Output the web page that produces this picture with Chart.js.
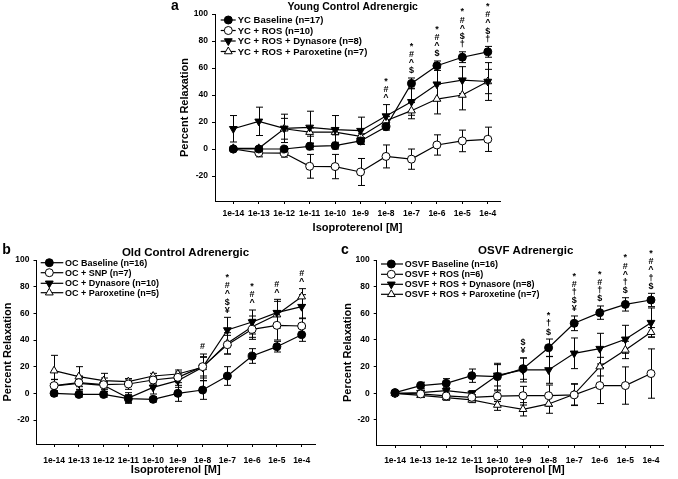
<!DOCTYPE html>
<html>
<head>
<meta charset="utf-8">
<script src="https://cdn.jsdelivr.net/npm/chart.js@4.4.1/dist/chart.umd.min.js"></script>
<style>
  body { margin: 0; background: #fff; }
  #wrap { position: relative; width: 678px; height: 479px; }
  canvas { position: absolute; }
</style>
</head>
<body>
<div id="wrap">
  <canvas id="chartA" width="350" height="240" style="left:160px;top:0px"></canvas>
  <canvas id="chartB" width="340" height="239" style="left:0px;top:240px"></canvas>
  <canvas id="chartC" width="340" height="239" style="left:338px;top:240px"></canvas>
</div>
<script>
// x categories (isoproterenol concentration) and y tick labels
const conc = ["1e-14", "1e-13", "1e-12", "1e-11", "1e-10", "1e-9", "1e-8", "1e-7", "1e-6", "1e-5", "1e-4"];
const yTicks = [-20, 0, 20, 40, 60, 80, 100];

/********* PANEL A: young control *********/
const ycBase = [0, 0, 0, 2, 2.5, 6, 16.5, 48.6, 61.7, 68, 72];
const ycBaseErr = [1.5, 1.5, 1.5, 2.5, 2.5, 2.5, 2.5, 4, 3.5, 4, 4];
const ycRos = [0, -2.8, -3, -12.8, -13, -17, -5.5, -7.5, 3, 6, 7.2];
const ycRosErr = [1, 3, 3, 8.8, 9, 10, 8.5, 7.5, 7.5, 8, 9];
const ycDyn = [15, 20.5, 15.3, 16, 14.3, 13.6, 24.4, 35, 48, 51, 50];
const ycDynErr = [9.8, 10.5, 10.5, 12, 10.5, 10, 8.5, 10, 12, 10, 14];
const ycPar = [0.5, 0.5, 15, 12.5, 12.5, 9.3, 21, 28.4, 37, 40, 50];
const ycParErr = [1, 1.5, 7.7, 3, 2, 2, 3, 6, 11, 11, 9];
const sigA = ["", "", "", "", "", "", "*#^", "*#^$", "*#^$", "*#^$\u2020", "*#^$\u2020"];
const namesA = ["YC Baseline (n=17)", "YC + ROS (n=10)", "YC + ROS + Dynasore (n=8)", "YC + ROS + Paroxetine (n=7)"];

/********* PANEL B: old control *********/
const ocBase = [0, -0.8, -0.8, -4, -4.5, 0, 2.5, 13, 28, 35, 44];
const ocBaseErr = [2, 2, 2, 3, 2, 6, 7, 7, 5.5, 4, 5];
const ocSnp = [5.8, 8, 6.5, 7, 10, 12, 20, 36.5, 48, 51, 50.5];
const ocSnpErr = [4.5, 5, 5, 4, 3, 4, 7, 7, 7.5, 11, 6];
const ocDyn = [5.5, 7.5, 6, -3.5, 4.5, 9.5, 19.5, 47.5, 53.5, 60.5, 65];
const ocDynErr = [5, 5, 3, 4, 5, 5, 8, 9.5, 9, 10, 9];
const ocPar = [17, 12.5, 9.5, 8.8, 13, 14.5, 19.5, 37.5, 50, 59, 72.5];
const ocParErr = [11.5, 7.5, 5.5, 2, 2, 3, 10, 8, 8, 10, 6];
const sigB = ["", "", "", "", "", "", "#", "*#^$\u00a5", "*#^", "#^", "#^"];
const namesB = ["OC Baseline (n=16)", "OC + SNP (n=7)", "OC + Dynasore (n=10)", "OC + Paroxetine (n=5)"];

/********* PANEL C: OSVF *********/
const osBase = [0.5, 5.8, 7.5, 13.2, 12.5, 18.5, 34.2, 52.5, 60.5, 66.7, 70];
const osBaseErr = [1, 2.5, 3.5, 5, 10, 8, 6.5, 5.5, 5, 5, 5];
const osRos = [0, -0.5, -2, -3, -2.2, -1.8, -1.8, -1.2, 5.8, 5.8, 14.8];
const osRosErr = [1, 1, 2, 2, 4, 7, 8, 8, 13.5, 14, 18.5];
const osDyn = [0, 0.5, 2, 0, 13.5, 17.5, 17.5, 30, 33.5, 40.5, 53];
const osDynErr = [1, 1.5, 2, 2, 8, 9, 10, 11.5, 11.5, 10.5, 11];
const osPar = [0, -1.5, -3.2, -5, -8.8, -12, -8, -0.8, 20, 32.5, 45.8];
const osParErr = [1, 1.5, 2, 2, 4, 5, 7, 8, 7, 6.5, 3.5];
const sigC = ["", "", "", "", "", "$\u00a5", "*\u2020$", "*#\u2020$\u00a5", "*#\u2020$", "*#^\u2020$", "*#^\u2020$"];
const namesC = ["OSVF Baseline (n=16)", "OSVF + ROS (n=6)", "OSVF + ROS + Dynasore (n=8)", "OSVF + ROS + Paroxetine (n=7)"];

const FONT = "'Liberation Sans', Arial, sans-serif";
Chart.defaults.font.family = FONT;
Chart.defaults.color = "#000";

// marker look per series: filled circle, open circle, filled down-triangle, open up-triangle
const marks = [
  { pointStyle: "circle", bg: "#000", radius: 4, rotation: 0 },
  { pointStyle: "circle", bg: "#fff", radius: 4, rotation: 0 },
  { pointStyle: "triangle", bg: "#000", radius: 4.5, rotation: 180 },
  { pointStyle: "triangle", bg: "#fff", radius: 4.5, rotation: 0 },
];

//error bars with caps, drawn under the lines
const errorBars = {
  id: "errorBars",
  beforeDatasetsDraw(chart) {
    const { ctx, scales: { x, y } } = chart;
    ctx.save();
    ctx.strokeStyle = "#000";
    ctx.lineWidth = 1;
    chart.data.datasets.forEach((ds) => {
      ds.data.forEach((p, i) => {
        const e = ds.errors[i];
        const px = Math.round(x.getPixelForValue(p.x)) + 0.5;
        const top = y.getPixelForValue(p.y + e);
        const bot = y.getPixelForValue(p.y - e);
        ctx.beginPath();
        ctx.moveTo(px, top); ctx.lineTo(px, bot);
        ctx.moveTo(px - 3.5, top); ctx.lineTo(px + 3.5, top);
        ctx.moveTo(px - 3.5, bot); ctx.lineTo(px + 3.5, bot);
        ctx.stroke();
      });
    });
    ctx.restore();
  },
};

//significance symbols stacked above the highest error bar
function sigPlugin(sig) {
  return {
    id: "sig",
    afterDatasetsDraw(chart) {
      const { ctx, scales: { x, y } } = chart;
      ctx.save();
      ctx.font = "bold 9px " + FONT;
      ctx.fillStyle = "#000";
      ctx.textAlign = "center";
      ctx.textBaseline = "middle";
      sig.forEach((s, i) => {
        if (!s) return;
        let top = -Infinity;
        chart.data.datasets.forEach((ds) => {
          top = Math.max(top, ds.data[i].y + ds.errors[i]);
        });
        const px = x.getPixelForValue(i);
        let py = y.getPixelForValue(top) - 7;
        const syms = Array.from(s);
        for (let k = syms.length - 1; k >= 0; k--) {
          ctx.fillText(syms[k], px, py);
          py -= 8.2;
        }
      });
      ctx.restore();
    },
  };
}

//legend inside the plot + panel letter and title
function decoPlugin(p) {
  return {
    id: "deco",
    afterDraw(chart) {
      const ctx = chart.ctx;
      ctx.save();
      ctx.fillStyle = "#000";
      ctx.textBaseline = "middle";
      ctx.font = "bold 14px " + FONT;
      ctx.textAlign = "center";
      ctx.fillText(p.letter, p.letterX, p.letterY);
      ctx.font = "bold " + p.titleSize + "px " + FONT;
      ctx.fillText(p.title, p.titleX, p.titleY);
      ctx.textAlign = "left";
      ctx.font = "bold " + p.legSize + "px " + FONT;
      chart.data.datasets.forEach((ds, k) => {
        const ry = p.rows[k];
        ctx.strokeStyle = "#000";
        ctx.lineWidth = 1.2;
        ctx.beginPath();
        ctx.moveTo(p.lx0, ry); ctx.lineTo(p.lx1, ry);
        ctx.stroke();
        ctx.fillStyle = marks[k].bg;
        ctx.lineWidth = 1;
        Chart.helpers.drawPoint(ctx, { pointStyle: marks[k].pointStyle, rotation: marks[k].rotation, radius: marks[k].radius, borderWidth: 1 }, p.mx, ry);
        ctx.fillStyle = "#000";
        ctx.fillText(ds.label, p.tx, ry + 0.5);
      });
      ctx.restore();
    },
  };
}

function makePanel(id, series, errs, names, sig, g) {
  const datasets = series.map((vals, k) => ({
    label: names[k],
    data: vals.map((v, i) => ({ x: i, y: v })),
    errors: errs[k],
    borderColor: "#000",
    borderWidth: 1.2,
    pointStyle: marks[k].pointStyle,
    pointRotation: marks[k].rotation,
    pointRadius: marks[k].radius,
    pointBackgroundColor: marks[k].bg,
    pointBorderColor: "#000",
    pointBorderWidth: 1,
    tension: 0,
    clip: false,
  }));

  new Chart(document.getElementById(id), {
    type: "line",
    data: { datasets: datasets },
    options: {
      responsive: false,
      animation: false,
      layout: { padding: { left: 0, top: g.top, right: g.right, bottom: 0 } },
      scales: {
        x: {
          type: "linear",
          min: g.xMin,
          max: g.xMax,
          afterFit: (s) => { s.height = g.xH; },
          afterBuildTicks: (s) => { s.ticks = conc.map((c, i) => ({ value: i })); },
          ticks: {
            callback: (v) => conc[v],
            autoSkip: false,
            maxRotation: 0,
            padding: g.xPad,
            font: { size: 8.5, weight: "bold" },
          },
          grid: { drawOnChartArea: false, tickLength: 3, color: "#000" },
          border: { color: "#000", width: 1 },
          title: {
            display: true,
            text: "Isoproterenol [M]",
            font: { size: 11, weight: "bold" },
            padding: { top: 0, bottom: g.xTitlePad },
          },
        },
        y: {
          min: g.yMin,
          max: 100,
          afterFit: (s) => { s.width = g.yW; },
          afterBuildTicks: (s) => { s.ticks = yTicks.map((v) => ({ value: v })); },
          ticks: { padding: 4, font: { size: 8.5, weight: "bold" } },
          grid: { drawOnChartArea: false, tickLength: 3, color: "#000" },
          border: { color: "#000", width: 1 },
          title: {
            display: true,
            text: "Percent Relaxation",
            font: { size: 11, weight: "bold" },
            padding: { top: g.yTitlePad, bottom: 0 },
          },
        },
      },
      plugins: {
        legend: { display: false },
        tooltip: { enabled: false },
      },
    },
    plugins: [errorBars, sigPlugin(sig), decoPlugin(g)],
  });
}

makePanel("chartA", [ycBase, ycRos, ycDyn, ycPar], [ycBaseErr, ycRosErr, ycDynErr, ycParErr], namesA, sigA, {
  top: 14, right: 10, yW: 55, xH: 39, xMin: -0.72, xMax: 10.48, yMin: -38.5,
  xPad: 5, xTitlePad: 5, yTitlePad: 18,
  letter: "a", letterX: 15, letterY: 6, title: "Young Control Adrenergic", titleX: 192.7, titleY: 7.5, titleSize: 10.5,
  legSize: 9.5, lx0: 60.7, lx1: 75.7, mx: 68.3, tx: 77.7, rows: [20, 30.5, 41, 51.5],
});

makePanel("chartB", [ocBase, ocSnp, ocDyn, ocPar], [ocBaseErr, ocSnpErr, ocDynErr, ocParErr], namesB, sigB, {
  top: 20, right: 25, yW: 36.5, xH: 35, xMin: -0.71, xMax: 10.54, yMin: -38,
  xPad: 8.5, xTitlePad: 2.4, yTitlePad: 1,
  letter: "b", letterX: 6.5, letterY: 10, title: "Old Control Adrenergic", titleX: 185.5, titleY: 13.3, titleSize: 11.5,
  legSize: 9, lx0: 40.7, lx1: 63.3, mx: 49.3, tx: 65, rows: [22.7, 32.7, 43.3, 52.7],
});

makePanel("chartC", [osBase, osRos, osDyn, osPar], [osBaseErr, osRosErr, osDynErr, osParErr], namesC, sigC, {
  top: 20, right: 15, yW: 38.7, xH: 34, xMin: -0.715, xMax: 10.47, yMin: -38.8,
  xPad: 7.7, xTitlePad: 2.4, yTitlePad: 3.4,
  letter: "c", letterX: 7, letterY: 10, title: "OSVF Adrenergic", titleX: 187.7, titleY: 11, titleSize: 11.5,
  legSize: 9, lx0: 43, lx1: 65, mx: 53.3, tx: 66.7, rows: [24, 34.3, 44.3, 54.3],
});
</script>
</body>
</html>
